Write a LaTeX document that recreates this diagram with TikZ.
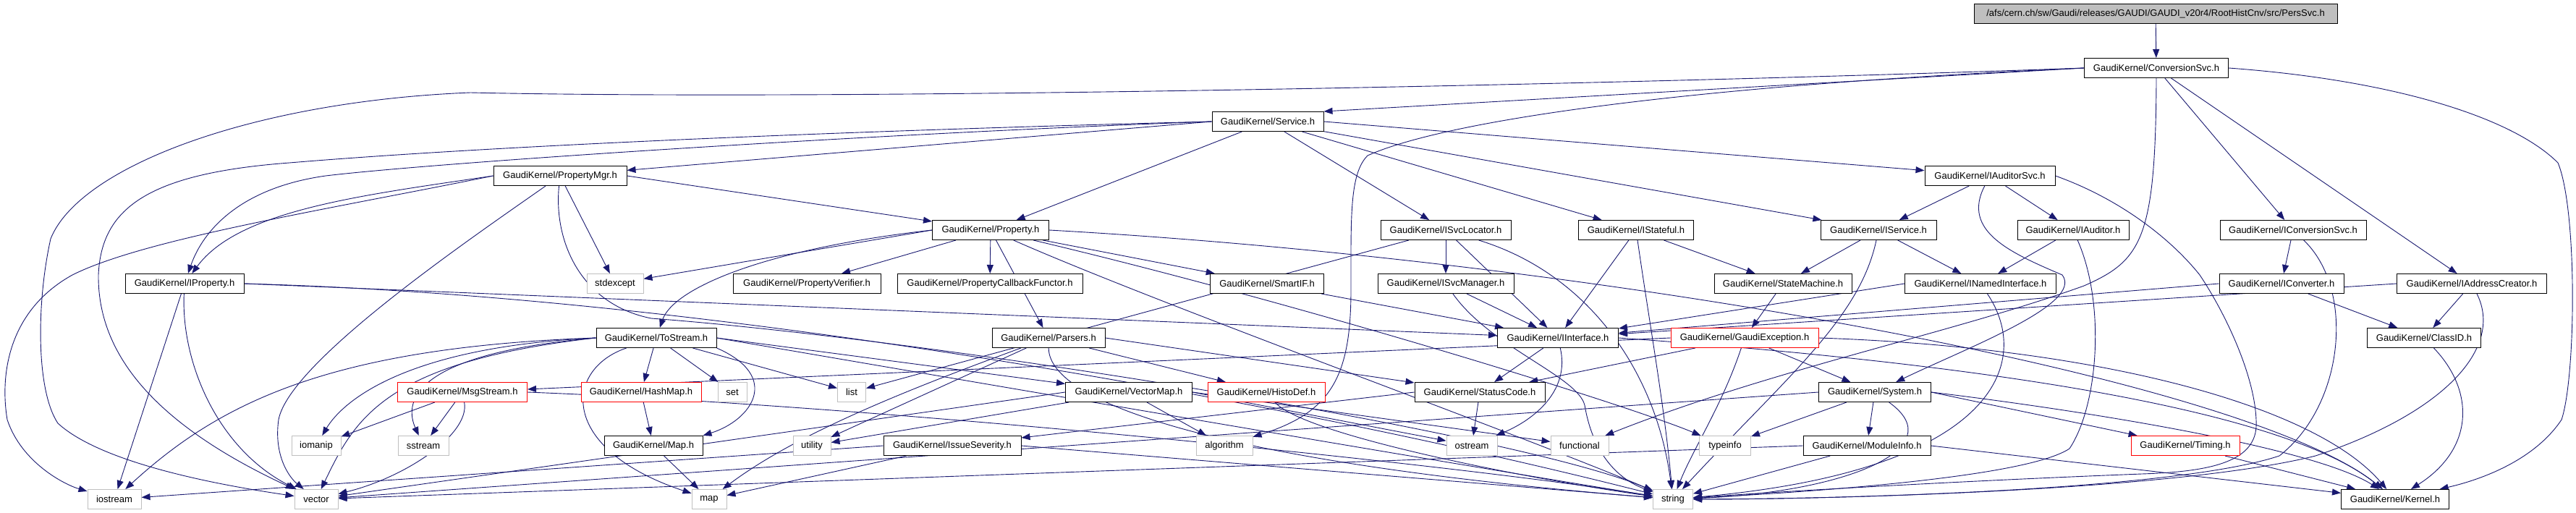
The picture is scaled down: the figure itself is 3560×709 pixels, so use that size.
\documentclass[tikz,border=0pt]{standalone}
\usepackage{fontspec}
\setmainfont{Liberation Sans}
\usetikzlibrary{arrows.meta,backgrounds}
\definecolor{edgeblue}{HTML}{191970}
\definecolor{sysgray}{HTML}{BFBFBF}

\begin{document}
\begin{tikzpicture}[x=1pt,y=-1pt,
    box/.style={draw=black, fill=white, line width=1pt, minimum height=27pt, inner sep=0pt, font=\fontsize{13}{15}\selectfont},
    redbox/.style={box, draw=red},
    sysbox/.style={box, draw=sysgray},
    rootbox/.style={box, fill=sysgray},
    incl/.style={draw=edgeblue, line width=0.9pt, -{Triangle[length=12pt,width=9pt]}}]
\useasboundingbox (0,0) rectangle (3560,709);
                    % Nodes
                    \node[rootbox, minimum width=502pt] (persSvc) at (2979,19) {/afs/cern.ch/sw/Gaudi/releases/GAUDI/GAUDI\_v20r4/RootHistCnv/src/PersSvc.h};
                    \node[box, minimum width=199pt] (conversionSvc) at (2980,94) {GaudiKernel/ConversionSvc.h};
                    \node[box, minimum width=154pt] (service) at (1752,168) {GaudiKernel/Service.h};
                    \node[box, minimum width=184pt] (propertyMgr) at (774,243) {GaudiKernel/PropertyMgr.h};
                    \node[box, minimum width=180pt] (iAuditorSvc) at (2750,243) {GaudiKernel/IAuditorSvc.h};
                    \node[box, minimum width=161pt] (property) at (1369,318) {GaudiKernel/Property.h};
                    \node[box, minimum width=180pt] (iSvcLocator) at (1998,318) {GaudiKernel/ISvcLocator.h};
                    \node[box, minimum width=159pt] (iStateful) at (2261,318) {GaudiKernel/IStateful.h};
                    \node[box, minimum width=160pt] (iService) at (2596,318) {GaudiKernel/IService.h};
                    \node[box, minimum width=154pt] (iAuditor) at (2865,318) {GaudiKernel/IAuditor.h};
                    \node[box, minimum width=202pt] (iConversionSvc) at (3169,318) {GaudiKernel/IConversionSvc.h};
                    \node[box, minimum width=164pt] (iProperty) at (255,392) {GaudiKernel/IProperty.h};
                    \node[sysbox, minimum width=78pt] (stdexcept) at (850,392) {stdexcept};
                    \node[box, minimum width=204pt] (propertyVerifier) at (1115,392) {GaudiKernel/PropertyVerifier.h};
                    \node[box, minimum width=256pt] (callbackFunctor) at (1368,392) {GaudiKernel/PropertyCallbackFunctor.h};
                    \node[box, minimum width=157pt] (smartIF) at (1751,392) {GaudiKernel/SmartIF.h};
                    \node[box, minimum width=188pt] (iSvcManager) at (1998,392) {GaudiKernel/ISvcManager.h};
                    \node[box, minimum width=190pt] (stateMachine) at (2464,392) {GaudiKernel/StateMachine.h};
                    \node[box, minimum width=209pt] (iNamedInterface) at (2737,392) {GaudiKernel/INamedInterface.h};
                    \node[box, minimum width=172pt] (iConverter) at (3153,392) {GaudiKernel/IConverter.h};
                    \node[box, minimum width=207pt] (iAddressCreator) at (3416,392) {GaudiKernel/IAddressCreator.h};
                    \node[box, minimum width=166pt] (toStream) at (907,467) {GaudiKernel/ToStream.h};
                    \node[box, minimum width=156pt] (parsers) at (1449,467) {GaudiKernel/Parsers.h};
                    \node[box, minimum width=167pt] (iInterface) at (2153,467) {GaudiKernel/IInterface.h};
                    \node[redbox, minimum width=204pt] (gaudiException) at (2411,467) {GaudiKernel/GaudiException.h};
                    \node[box, minimum width=157pt] (classID) at (3350,467) {GaudiKernel/ClassID.h};
                    \node[redbox, minimum width=179pt] (msgStream) at (639,542) {GaudiKernel/MsgStream.h};
                    \node[redbox, minimum width=166pt] (hashMap) at (886,542) {GaudiKernel/HashMap.h};
                    \node[sysbox, minimum width=40pt] (stdSet) at (1012,542) {set};
                    \node[sysbox, minimum width=39pt] (stdList) at (1177,542) {list};
                    \node[box, minimum width=175pt] (vectorMap) at (1560,542) {GaudiKernel/VectorMap.h};
                    \node[redbox, minimum width=162pt] (histoDef) at (1750,542) {GaudiKernel/HistoDef.h};
                    \node[box, minimum width=180pt] (statusCode) at (2045,542) {GaudiKernel/StatusCode.h};
                    \node[box, minimum width=155pt] (system) at (2591,542) {GaudiKernel/System.h};
                    \node[sysbox, minimum width=68pt] (iomanip) at (437,616) {iomanip};
                    \node[sysbox, minimum width=70pt] (sstream) at (585,616) {sstream};
                    \node[box, minimum width=136pt] (mapH) at (903,616) {GaudiKernel/Map.h};
                    \node[sysbox, minimum width=52pt] (utility) at (1122,616) {utility};
                    \node[box, minimum width=190pt] (issueSeverity) at (1316,616) {GaudiKernel/IssueSeverity.h};
                    \node[sysbox, minimum width=78pt] (algorithm) at (1692,616) {algorithm};
                    \node[sysbox, minimum width=70pt] (ostream) at (2034,616) {ostream};
                    \node[sysbox, minimum width=80pt] (functional) at (2183,616) {functional};
                    \node[sysbox, minimum width=71pt] (typeinfo) at (2384,616) {typeinfo};
                    \node[box, minimum width=176pt] (moduleInfo) at (2580,616) {GaudiKernel/ModuleInfo.h};
                    \node[redbox, minimum width=150pt] (timing) at (3020,616) {GaudiKernel/Timing.h};
                    \node[sysbox, minimum width=74pt] (iostream) at (158,690) {iostream};
                    \node[sysbox, minimum width=60pt] (vector) at (437,690) {vector};
                    \node[sysbox, minimum width=48pt] (stdMap) at (980,690) {map};
                    \node[sysbox, minimum width=55pt] (string) at (2312,690) {string};
                    \node[box, minimum width=149pt] (kernel) at (3310,690) {GaudiKernel/Kernel.h};
                    % Edges
                    \begin{scope}[on background layer]
                    \draw[incl] (persSvc) -- (conversionSvc);
                    \draw[incl] (conversionSvc.west) -- (service.north east);
                    \draw[incl] (conversionSvc) -- (iConversionSvc);
                    \draw[incl] (conversionSvc) -- (iAddressCreator);
                    \draw[incl] (conversionSvc.east) .. controls (3300,110) and (3470,160) .. (3535,225) .. controls (3562,290) and (3560,520) .. (3540,580) .. controls (3500,640) and (3420,665) .. (kernel);
                    \draw[incl] (conversionSvc.west) .. controls (2300,115) and (1200,140) .. (650,128) .. controls (350,140) and (110,230) .. (70,330) .. controls (50,420) and (50,540) .. (80,585) .. controls (140,640) and (300,670) .. (vector);
                    \draw[incl] (conversionSvc.west) .. controls (2300,120) and (1990,170) .. (1890,215) .. controls (1865,240) and (1867,300) .. (1867,400) .. controls (1867,520) and (1840,570) .. (algorithm);
                    \draw[incl] (conversionSvc.south) .. controls (2979,330) and (2960,360) .. (2880,395) .. controls (2700,460) and (2450,510) .. (functional);
                    \draw[incl] (service.west) -- (propertyMgr);
                    \draw[incl] (service) -- (property);
                    \draw[incl] (service) -- (iSvcLocator);
                    \draw[incl] (service) -- (iStateful);
                    \draw[incl] (service) -- (iService);
                    \draw[incl] (service.east) -- (iAuditorSvc);
                    \draw[incl] (service.west) .. controls (1200,185) and (600,225) .. (450,243) .. controls (330,260) and (280,320) .. (iProperty);
                    \draw[incl] (service.west) .. controls (1200,180) and (700,200) .. (400,225) .. controls (200,240) and (140,290) .. (136,380) .. controls (135,480) and (200,580) .. (vector);
                    \draw[incl] (propertyMgr.west) .. controls (500,270) and (330,290) .. (iProperty);
                    \draw[incl] (propertyMgr.east) -- (property);
                    \draw[incl] (propertyMgr) -- (stdexcept);
                    \draw[incl] (propertyMgr.west) .. controls (450,290) and (200,330) .. (100,380) .. controls (10,430) and (0,520) .. (10,580) .. controls (30,640) and (90,670) .. (iostream);
                    \draw[incl] (propertyMgr) .. controls (650,330) and (400,500) .. (385,580) .. controls (378,630) and (400,660) .. (vector);
                    \draw[incl] (propertyMgr) .. controls (765,330) and (800,420) .. (900,440) .. controls (1300,470) and (2100,600) .. (string);
                    \draw[incl] (iAuditorSvc) -- (iService);
                    \draw[incl] (iAuditorSvc) -- (iAuditor);
                    \draw[incl] (iAuditorSvc.east) .. controls (2930,275) and (3000,330) .. (3040,380) .. controls (3080,440) and (3120,530) .. (3118,590) .. controls (3115,640) and (3050,652) .. (2960,655) .. controls (2700,665) and (2450,680) .. (string);
                    \draw[incl] (iAuditorSvc) .. controls (2710,320) and (2780,350) .. (2850,380) .. controls (2880,420) and (2720,480) .. (system);
                    \draw[incl] (property.west) .. controls (1050,345) and (930,400) .. (toStream);
                    \draw[incl] (property.west) -- (stdexcept);
                    \draw[incl] (property) -- (propertyVerifier);
                    \draw[incl] (property) -- (callbackFunctor);
                    \draw[incl] (property) -- (smartIF);
                    \draw[incl] (property) -- (parsers);
                    \draw[incl] (property) .. controls (1600,420) and (2100,600) .. (string);
                    \draw[incl] (property) .. controls (1800,420) and (2250,560) .. (typeinfo);
                    \draw[incl] (property.east) .. controls (2200,360) and (3100,520) .. (kernel);
                    \draw[incl] (iSvcLocator) -- (iSvcManager);
                    \draw[incl] (iSvcLocator) -- (iInterface);
                    \draw[incl] (iSvcLocator) -- (stdList);
                    \draw[incl] (iSvcLocator) .. controls (2200,380) and (2290,520) .. (string);
                    \draw[incl] (iStateful) -- (iInterface);
                    \draw[incl] (iStateful) -- (stateMachine);
                    \draw[incl] (iStateful) .. controls (2280,450) and (2300,560) .. (string);
                    \draw[incl] (iService) -- (stateMachine);
                    \draw[incl] (iService) -- (iNamedInterface);
                    \draw[incl] (iService) .. controls (2570,440) and (2470,520) .. (string);
                    \draw[incl] (iAuditor) -- (iNamedInterface);
                    \draw[incl] (iAuditor) .. controls (2910,420) and (2900,560) .. (2860,620) .. controls (2800,660) and (2500,680) .. (string);
                    \draw[incl] (iConversionSvc) -- (iConverter);
                    \draw[incl] (iConversionSvc) .. controls (3255,400) and (3240,560) .. (3150,630) .. controls (3000,680) and (2500,690) .. (string);
                    \draw[incl] (iProperty.east) -- (iInterface);
                    \draw[incl] (iProperty.east) .. controls (1000,410) and (1800,560) .. (string);
                    \draw[incl] (iProperty) -- (iostream);
                    \draw[incl] (iProperty) .. controls (250,500) and (300,620) .. (vector);
                    \draw[incl] (smartIF) -- (iInterface);
                    \draw[incl] (iSvcManager) -- (iInterface);
                    \draw[incl] (iSvcManager) .. controls (2060,480) and (2180,520) .. (2190,560) .. controls (2200,620) and (2230,660) .. (string);
                    \draw[incl] (stateMachine) -- (gaudiException);
                    \draw[incl] (iNamedInterface.west) -- (iInterface);
                    \draw[incl] (iNamedInterface) .. controls (2810,500) and (2760,650) .. (string);
                    \draw[incl] (iConverter) -- (classID);
                    \draw[incl] (iConverter.west) -- (iInterface);
                    \draw[incl] (iAddressCreator) -- (classID);
                    \draw[incl] (iAddressCreator.west) -- (iInterface);
                    \draw[incl] (iAddressCreator) .. controls (3460,480) and (3380,570) .. (3200,630) .. controls (3000,680) and (2500,690) .. (string);
                    \draw[incl] (classID) .. controls (3420,540) and (3420,620) .. (kernel);
                    \draw[incl] (toStream) -- (hashMap);
                    \draw[incl] (toStream) -- (stdSet);
                    \draw[incl] (toStream) -- (stdList);
                    \draw[incl] (toStream.east) -- (vectorMap);
                    \draw[incl] (toStream.south east) .. controls (1080,520) and (1040,580) .. (mapH.north east);
                    \draw[incl] (toStream) .. controls (780,510) and (770,620) .. (stdMap);
                    \draw[incl] (toStream.west) .. controls (450,480) and (300,560) .. (iostream);
                    \draw[incl] (toStream.west) .. controls (550,480) and (470,560) .. (iomanip);
                    \draw[incl] (toStream.west) .. controls (560,490) and (560,560) .. (sstream);
                    \draw[incl] (toStream.west) .. controls (530,500) and (490,580) .. (vector);
                    \draw[incl] (toStream.east) .. controls (1300,520) and (2000,640) .. (string);
                    \draw[incl] (parsers) -- (histoDef);
                    \draw[incl] (parsers.east) -- (statusCode);
                    \draw[incl] (parsers) .. controls (1250,540) and (1100,600) .. (stdMap);
                    \draw[incl] (parsers) .. controls (1450,560) and (1700,640) .. (string);
                    \draw[incl] (parsers) -- (utility);
                    \draw[incl] (msgStream) -- (sstream);
                    \draw[incl] (msgStream) -- (iomanip);
                    \draw[incl] (msgStream) .. controls (650,600) and (560,660) .. (vector);
                    \draw[incl] (msgStream.east) .. controls (1200,560) and (2000,640) .. (string);
                    \draw[incl] (hashMap) -- (mapH);
                    \draw[incl] (mapH) -- (stdMap);
                    \draw[incl] (vectorMap) -- (utility);
                    \draw[incl] (vectorMap) -- (algorithm);
                    \draw[incl] (vectorMap.east) -- (functional);
                    \draw[incl] (vectorMap.east) -- (ostream);
                    \draw[incl] (vectorMap.west) -- (vector);
                    \draw[incl] (histoDef) .. controls (1800,600) and (2100,660) .. (string);
                    \draw[incl] (iInterface) -- (statusCode);
                    \draw[incl] (iInterface) .. controls (2170,540) and (2120,580) .. (ostream);
                    \draw[incl] (iInterface.east) .. controls (2700,500) and (3150,560) .. (kernel);
                    \draw[incl] (gaudiException) -- (statusCode);
                    \draw[incl] (gaudiException) -- (system);
                    \draw[incl] (gaudiException.west) -- (msgStream);
                    \draw[incl] (gaudiException) .. controls (2380,560) and (2340,620) .. (string);
                    \draw[incl] (gaudiException.east) .. controls (2900,480) and (3200,560) .. (kernel);
                    \draw[incl] (statusCode) -- (ostream);
                    \draw[incl] (statusCode.west) -- (issueSeverity);
                    \draw[incl] (issueSeverity.west) -- (iostream);
                    \draw[incl] (issueSeverity) -- (stdMap);
                    \draw[incl] (issueSeverity.east) -- (string);
                    \draw[incl] (system) -- (typeinfo);
                    \draw[incl] (system) -- (moduleInfo);
                    \draw[incl] (system.east) -- (timing);
                    \draw[incl] (system.west) -- (vector);
                    \draw[incl] (system) .. controls (2700,620) and (2550,680) .. (string);
                    \draw[incl] (system.east) .. controls (2900,570) and (3200,620) .. (kernel);
                    \draw[incl] (moduleInfo.east) -- (kernel);
                    \draw[incl] (moduleInfo) -- (string);
                    \draw[incl] (moduleInfo.west) -- (vector);
                    \draw[incl] (timing) -- (kernel);
                    \end{scope}
\end{tikzpicture}
\end{document}
